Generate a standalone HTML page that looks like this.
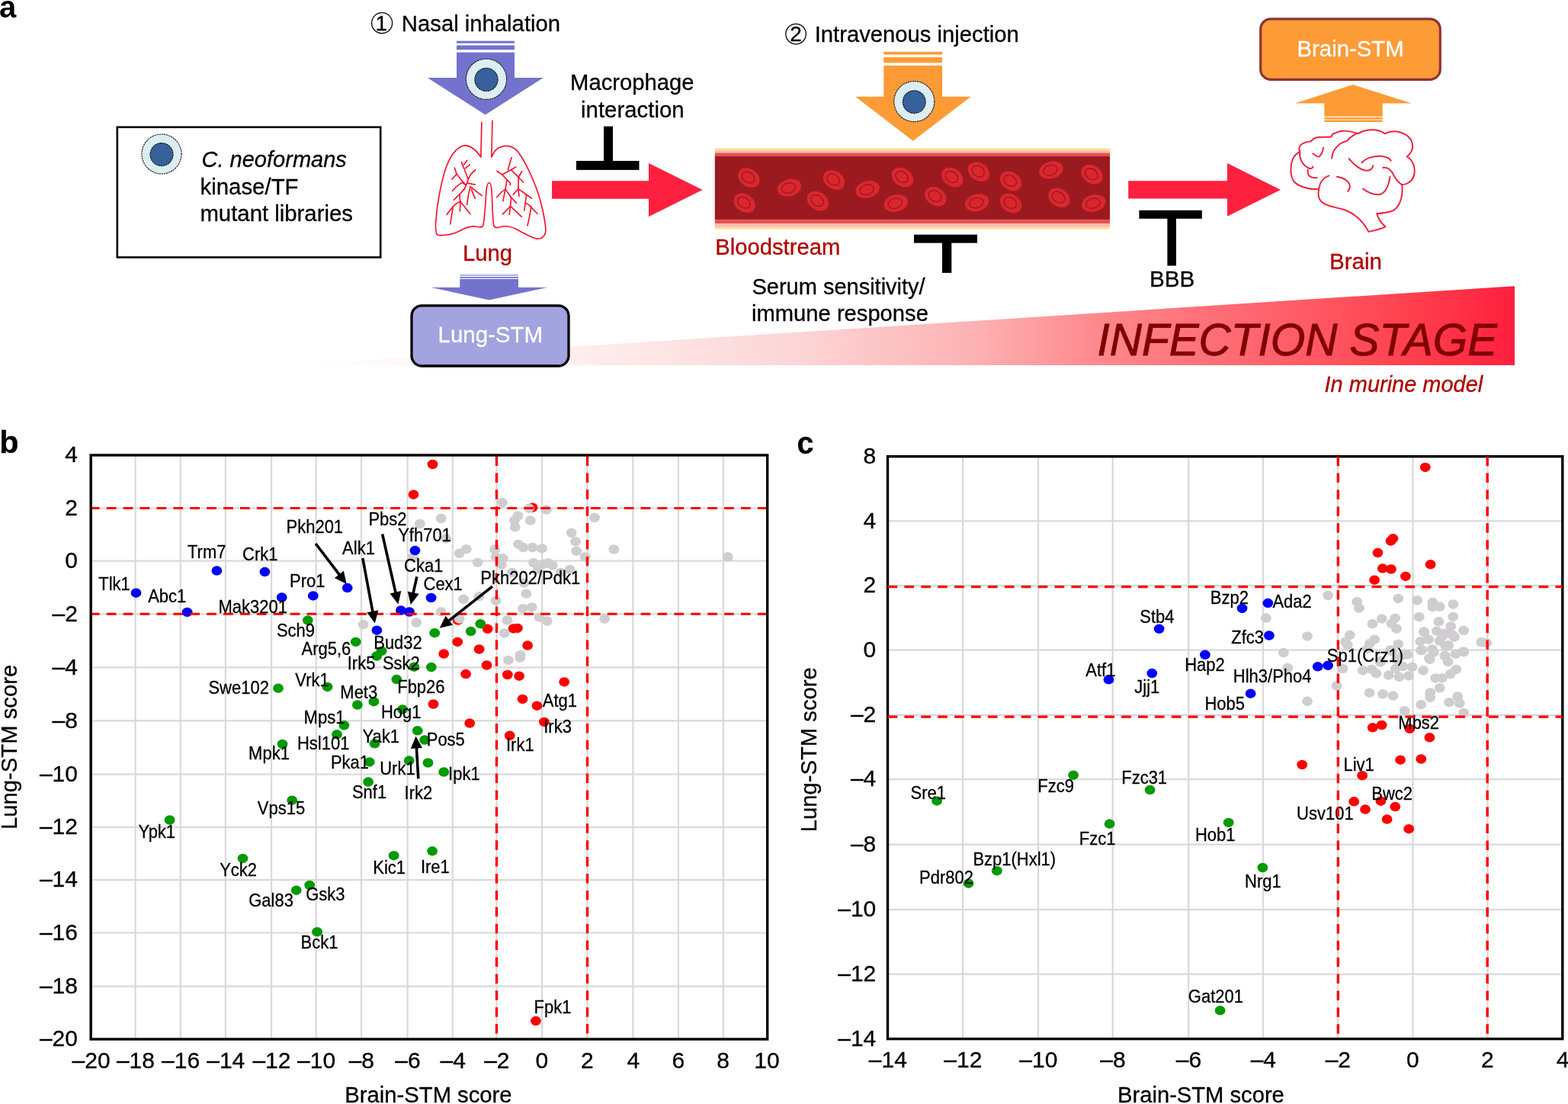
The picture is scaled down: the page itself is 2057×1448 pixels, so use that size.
<!DOCTYPE html>
<html><head><meta charset="utf-8"><title>Figure</title>
<style>
html,body{margin:0;padding:0;background:#fff;overflow:hidden;}
svg{display:block;}
text{font-family:"Liberation Sans", Arial, Helvetica, sans-serif;}
</style></head><body>
<svg width="2057" height="1448" viewBox="0 0 2057 1448">
<rect width="2057" height="1448" fill="#fff"/>
<text x="-1" y="23.2" font-size="40" font-weight="bold">a</text>
<rect x="153.8" y="166.8" width="345.4" height="170.7" fill="none" stroke="#000" stroke-width="2.6"/>
<circle cx="212" cy="202" r="26" fill="#DCEEF3" stroke="#1a1a1a" stroke-width="1.1" stroke-dasharray="2.4 0.8"/><circle cx="212" cy="202.6" r="15" fill="#37619A" stroke="#111" stroke-width="1.1" stroke-dasharray="2.4 0.8"/>
<text transform="translate(264.43,219.30) scale(0.9685,1)" font-size="30" font-style="italic" stroke="#000" stroke-width="0.3">C. neoformans</text>
<text transform="translate(262.44,255.00) scale(0.9808,1)" font-size="30" stroke="#000" stroke-width="0.3">kinase/TF</text>
<text transform="translate(262.44,289.50) scale(0.9783,1)" font-size="30" stroke="#000" stroke-width="0.3">mutant libraries</text>
<circle cx="501.1" cy="30.2" r="13.5" fill="none" stroke="#000" stroke-width="1.3"/>
<text x="500.3" y="40.0" font-size="28" fill="#000" text-anchor="middle" stroke="#000" stroke-width="0.3">1</text>
<text transform="translate(526.85,41.00) scale(0.9758,1)" font-size="30" stroke="#000" stroke-width="0.3">Nasal inhalation</text>
<rect x="599" y="53.7" width="76" height="3" fill="#7373CE"/>
<rect x="599" y="59.5" width="76" height="5.8" fill="#7373CE"/>
<path d="M599,68.8 H675 V102 H712.7 L636.7,150.5 L560.8,102 H599 Z" fill="#7373CE"/>
<circle cx="638" cy="103.8" r="26.6" fill="#DCEEF3" stroke="#1a1a1a" stroke-width="1.1" stroke-dasharray="2.4 0.8"/><circle cx="638" cy="104.39999999999999" r="15.1" fill="#37619A" stroke="#111" stroke-width="1.1" stroke-dasharray="2.4 0.8"/>
<g transform="translate(540,140) scale(0.15193)" fill="none" stroke="#F5142F" stroke-width="11" stroke-linejoin="round" stroke-linecap="round"><path d="M605,135 L598,435 C575,400 520,330 455,335 C380,345 320,450 285,560 C240,720 215,900 208,1000 C205,1060 210,1100 225,1108 C290,1115 345,1105 400,1080 C460,1045 520,1025 560,1035 C590,1040 605,1045 615,1030 C630,990 640,800 645,720 C650,680 655,655 670,655 C685,658 690,690 693,750 C697,850 700,980 710,1030 C720,1050 735,1048 760,1040 C800,1025 860,1030 910,1060 C960,1090 1010,1120 1080,1140 C1130,1145 1158,1110 1158,1060 C1150,950 1110,780 1060,660 C1010,540 960,430 900,370 C860,335 810,330 760,350 C720,370 700,410 690,435 L697,120"/><path d="M429.4,476.7 L452.1,531.3 L488.5,626.8 L479,658 L470.3,676.8 L456.7,708.6"/><path d="M452.1,499.5 L479.4,463.1"/><path d="M465.8,531.3 L502.2,499.5"/><path d="M488.5,626.8 Q510,575 552.2,545"/><path d="M370.3,526.8 L388.5,581.3 L443,649.5 L470.3,676.8"/><path d="M388.5,581.3 L347.6,626.8"/><path d="M352.1,726.8 Q385,685 433.9,654.1 L470.3,676.8"/><path d="M482,658.6 L547.6,672.3"/><path d="M506.7,690.5 L606.7,767.7"/><path d="M515.8,713.2 L547.6,790.5"/><path d="M506.7,690.5 Q486,760 479.4,845"/><path d="M456.7,708.6 L415.8,754.1 L365.7,804.1"/><path d="M415.8,754.1 Q414,790 420.3,817.8"/><path d="M420.3,817.8 Q380,835 356.6,863.2 L302.1,931.4"/><path d="M356.6,868 L333.9,1013.3"/><path d="M420.3,817.8 L418,899.6"/><path d="M420.3,817.8 L506.7,926.9"/><path d="M863.9,438.1 Q845,490 832.1,545"/><path d="M736.6,556.3 L782,585.9 L823,631.3 Q850,655 854.8,667.7 L850,675"/><path d="M782,585.9 L859.3,545 L900.3,520"/><path d="M859.3,545 L923,608.6 L963.9,651.8"/><path d="M923,608.6 L952.5,556.3"/><path d="M923,608.6 L920.7,708.6 L927.5,772.3"/><path d="M823,631.3 L809.3,713.2 L788.9,813.2"/><path d="M809.3,713.2 Q770,735 736.6,781.4"/><path d="M809.3,713.2 L859.3,781.4 L904.8,831.4"/><path d="M859.3,781.4 L852.5,858.7 L843.4,931.4"/><path d="M852.5,858.7 L786.6,926.9"/><path d="M852.5,858.7 L950.3,949.6"/><path d="M920.7,708.6 L877.5,758.6"/><path d="M920.7,708.6 L991.2,758.6 L1036.7,790.5"/><path d="M991.2,758.6 L973,895.1"/><path d="M982.1,831.4 Q1010,840 1027.6,863.2 L1086.7,924.6"/><path d="M1032.1,863.2 Q1020,950 1000.3,1026.9"/></g>
<text transform="translate(607.02,342.20) scale(0.9917,1)" font-size="29.5" fill="#B00000" stroke="#B00000" stroke-width="0.3">Lung</text>
<rect x="603.3" y="360.1" width="76.7" height="1.8" fill="#A6A6E6"/>
<rect x="603.3" y="363.1" width="76.7" height="1.8" fill="#7373CE"/>
<path d="M603.3,365.9 H680 V377 H718 L641.6,393.5 L565.6,377 H603.3 Z" fill="#7373CE"/>
<text transform="translate(748.05,117.80) scale(0.9751,1)" font-size="30" stroke="#000" stroke-width="0.3">Macrophage</text>
<text transform="translate(762.04,153.70) scale(0.9797,1)" font-size="30" stroke="#000" stroke-width="0.3">interaction</text>
<rect x="792" y="165.7" width="12" height="46" fill="#000"/>
<rect x="756" y="211" width="82.5" height="11.9" fill="#000"/>
<path d="M724,237.3 H851 V214 L921.6,249 L851,284.2 V260.7 H724 Z" fill="#FE213F"/>
<circle cx="1044.1" cy="44.6" r="13.3" fill="none" stroke="#000" stroke-width="1.3"/>
<text x="1044.1" y="53.9" font-size="28" fill="#000" text-anchor="middle" stroke="#000" stroke-width="0.3">2</text>
<text transform="translate(1068.65,55.10) scale(0.9750,1)" font-size="30" stroke="#000" stroke-width="0.3">Intravenous injection</text>
<rect x="1159.3" y="67.9" width="76.8" height="3.7" fill="#FD9B36"/>
<rect x="1159.3" y="75.1" width="76.8" height="7.3" fill="#FD9B36"/>
<path d="M1159.3,86.1 H1236.1 V126.7 H1273.8 L1197.8,184.7 L1122.1,126.7 H1159.3 Z" fill="#FD9B36"/>
<circle cx="1199.3" cy="133.1" r="26.5" fill="#DCEEF3" stroke="#1a1a1a" stroke-width="1.1" stroke-dasharray="2.4 0.8"/><circle cx="1199.3" cy="133.7" r="14.9" fill="#37619A" stroke="#111" stroke-width="1.1" stroke-dasharray="2.4 0.8"/>
<rect x="937.9" y="194.1" width="518.1" height="106.5" fill="#FFE29A"/><rect x="937.9" y="197.3" width="518.1" height="100.4" fill="#F8BCB0"/><rect x="937.9" y="200.7" width="518.1" height="92.3" fill="#E55151"/><rect x="937.9" y="205.1" width="518.1" height="82.6" fill="#9B1A20"/><g transform="translate(982.4,233.2) rotate(35)"><ellipse rx="15.3" ry="11.6" fill="#DA272D"/><ellipse cx="-1" rx="8.87" ry="6.73" fill="#DA272D" stroke="#9E1B20" stroke-width="1.5"/></g><g transform="translate(976.6,266.2) rotate(35)"><ellipse rx="15.3" ry="11.6" fill="#DA272D"/><ellipse cx="-1" rx="8.87" ry="6.73" fill="#DA272D" stroke="#9E1B20" stroke-width="1.5"/></g><g transform="translate(1035.4,246.2) rotate(-15)"><ellipse rx="16" ry="11.2" fill="#DA272D"/><ellipse cx="-1" rx="9.28" ry="6.50" fill="#DA272D" stroke="#9E1B20" stroke-width="1.5"/></g><g transform="translate(1094,236.1) rotate(35)"><ellipse rx="15.3" ry="11.6" fill="#DA272D"/><ellipse cx="-1" rx="8.87" ry="6.73" fill="#DA272D" stroke="#9E1B20" stroke-width="1.5"/></g><g transform="translate(1072.8,263.6) rotate(35)"><ellipse rx="15.3" ry="11.6" fill="#DA272D"/><ellipse cx="-1" rx="8.87" ry="6.73" fill="#DA272D" stroke="#9E1B20" stroke-width="1.5"/></g><g transform="translate(1138.1,248.5) rotate(-15)"><ellipse rx="16" ry="11.2" fill="#DA272D"/><ellipse cx="-1" rx="9.28" ry="6.50" fill="#DA272D" stroke="#9E1B20" stroke-width="1.5"/></g><g transform="translate(1183.9,232.6) rotate(35)"><ellipse rx="15.3" ry="11.6" fill="#DA272D"/><ellipse cx="-1" rx="8.87" ry="6.73" fill="#DA272D" stroke="#9E1B20" stroke-width="1.5"/></g><g transform="translate(1175.2,266.5) rotate(-15)"><ellipse rx="16" ry="11.2" fill="#DA272D"/><ellipse cx="-1" rx="9.28" ry="6.50" fill="#DA272D" stroke="#9E1B20" stroke-width="1.5"/></g><g transform="translate(1249.2,232.6) rotate(35)"><ellipse rx="15.3" ry="11.6" fill="#DA272D"/><ellipse cx="-1" rx="8.87" ry="6.73" fill="#DA272D" stroke="#9E1B20" stroke-width="1.5"/></g><g transform="translate(1227.4,257.8) rotate(35)"><ellipse rx="15.3" ry="11.6" fill="#DA272D"/><ellipse cx="-1" rx="8.87" ry="6.73" fill="#DA272D" stroke="#9E1B20" stroke-width="1.5"/></g><g transform="translate(1284,225.3) rotate(35)"><ellipse rx="15.3" ry="11.6" fill="#DA272D"/><ellipse cx="-1" rx="8.87" ry="6.73" fill="#DA272D" stroke="#9E1B20" stroke-width="1.5"/></g><g transform="translate(1281.7,265.9) rotate(-15)"><ellipse rx="16" ry="11.2" fill="#DA272D"/><ellipse cx="-1" rx="9.28" ry="6.50" fill="#DA272D" stroke="#9E1B20" stroke-width="1.5"/></g><g transform="translate(1326,237.5) rotate(35)"><ellipse rx="15.3" ry="11.6" fill="#DA272D"/><ellipse cx="-1" rx="8.87" ry="6.73" fill="#DA272D" stroke="#9E1B20" stroke-width="1.5"/></g><g transform="translate(1326,266.5) rotate(35)"><ellipse rx="15.3" ry="11.6" fill="#DA272D"/><ellipse cx="-1" rx="8.87" ry="6.73" fill="#DA272D" stroke="#9E1B20" stroke-width="1.5"/></g><g transform="translate(1378.8,223) rotate(-15)"><ellipse rx="16" ry="11.2" fill="#DA272D"/><ellipse cx="-1" rx="9.28" ry="6.50" fill="#DA272D" stroke="#9E1B20" stroke-width="1.5"/></g><g transform="translate(1389.3,259.3) rotate(35)"><ellipse rx="15.3" ry="11.6" fill="#DA272D"/><ellipse cx="-1" rx="8.87" ry="6.73" fill="#DA272D" stroke="#9E1B20" stroke-width="1.5"/></g><g transform="translate(1432.5,228.8) rotate(35)"><ellipse rx="15.3" ry="11.6" fill="#DA272D"/><ellipse cx="-1" rx="8.87" ry="6.73" fill="#DA272D" stroke="#9E1B20" stroke-width="1.5"/></g><g transform="translate(1434.8,266.5) rotate(-15)"><ellipse rx="16" ry="11.2" fill="#DA272D"/><ellipse cx="-1" rx="9.28" ry="6.50" fill="#DA272D" stroke="#9E1B20" stroke-width="1.5"/></g>
<text transform="translate(938.25,334.40) scale(0.9739,1)" font-size="30" fill="#B00000" stroke="#B00000" stroke-width="0.3">Bloodstream</text>
<rect x="1199" y="307.7" width="83" height="11" fill="#000"/>
<rect x="1236" y="318" width="12.3" height="39.9" fill="#000"/>
<text transform="translate(986.43,386.00) scale(0.9671,1)" font-size="30" stroke="#000" stroke-width="0.3">Serum sensitivity/</text>
<text transform="translate(986.05,420.60) scale(0.9726,1)" font-size="30" stroke="#000" stroke-width="0.3">immune response</text>
<path d="M1480.2,237.2 H1610 V214.1 L1680,248.9 L1610,283.7 V260.6 H1480.2 Z" fill="#FE213F"/>
<rect x="1494.4" y="275.8" width="82.4" height="11" fill="#000"/>
<rect x="1531.4" y="286" width="11.5" height="62.5" fill="#000"/>
<text transform="translate(1507.92,376.30) scale(0.9891,1)" font-size="30" stroke="#000" stroke-width="0.3">BBB</text>
<g transform="translate(1460,10) scale(0.26240)" fill="none" stroke="#F0203C" stroke-width="7.5" stroke-linejoin="round" stroke-linecap="round"><path d="M935,720 C925,700 935,685 952,678 C965,670 980,670 990,668 C1000,655 1015,650 1025,648 C1050,645 1075,648 1092,646 C1093,635 1100,630 1110,627 C1130,618 1145,615 1160,616 C1185,617 1205,622 1225,630 C1260,608 1320,600 1360,630 C1400,608 1460,618 1490,660 C1505,690 1500,720 1470,745 C1500,762 1515,800 1505,840 C1495,870 1470,885 1445,885 C1450,930 1442,985 1405,1012 C1380,1025 1345,1028 1320,1030 C1325,1055 1345,1080 1362,1095 C1335,1108 1305,1115 1278,1120 C1255,1075 1215,1030 1150,1008 C1100,995 1045,990 1030,950 C1025,930 1028,915 1030,905 C995,912 935,900 905,870 C885,840 885,790 900,755 C910,735 925,725 935,720"/><path d="M935,720 C930,750 945,785 975,800 C990,810 1000,800 1000,795"/><path d="M975,810 C970,835 985,855 1020,850"/><path d="M1000,730 C1015,740 1025,748 1030,745 C1045,735 1050,715 1052,700"/><path d="M1094,753 C1096,725 1110,700 1134,682 C1145,675 1160,668 1169,667 C1175,660 1190,645 1205,637 C1212,632 1218,629 1222,628"/><path d="M1030,905 C1035,870 1050,850 1080,840"/><path d="M1120,845 C1160,850 1185,875 1185,895 C1185,905 1180,912 1175,918"/><path d="M1180,755 C1205,785 1235,812 1270,815 C1290,815 1300,800 1300,790"/><path d="M1245,775 C1260,755 1300,740 1340,742 C1365,745 1385,755 1390,765"/><path d="M1350,800 C1375,795 1395,815 1405,840 C1420,865 1435,880 1445,885"/><path d="M1250,905 C1275,925 1300,935 1330,935 C1360,930 1378,895 1385,845"/><path d="M1320,1030 C1330,1030 1345,1028 1350,1025"/></g>
<text transform="translate(1744.00,352.80) scale(1.0021,1)" font-size="29.5" fill="#B00000" stroke="#B00000" stroke-width="0.3">Brain</text>
<rect x="1737.4" y="153.9" width="76.3" height="2.6" fill="#FD9B36"/>
<rect x="1737.4" y="157.5" width="76.3" height="2.5" fill="#FD9B36"/>
<path d="M1737.4,152.7 V135.4 H1698.8 L1774.9,111 L1851.8,135.4 H1813.7 V152.7 Z" fill="#FD9B36"/>
<rect x="1653.7" y="24.8" width="235.6" height="79.6" rx="13.5" ry="13.5" fill="#FD9B36" stroke="#8E3434" stroke-width="3.2"/>
<text transform="translate(1701.55,74.30) scale(0.9773,1)" font-size="30" fill="#fff" stroke="#fff" stroke-width="0.3">Brain-STM</text>
<defs><linearGradient id="gInf" x1="373" y1="0" x2="1987" y2="0" gradientUnits="userSpaceOnUse"><stop offset="0.0000" stop-color="#FFFFFF"/><stop offset="0.1159" stop-color="#FFF7F7"/><stop offset="0.2336" stop-color="#FEEEEE"/><stop offset="0.4133" stop-color="#FCD6D7"/><stop offset="0.5558" stop-color="#FDB3B5"/><stop offset="0.6611" stop-color="#FE898D"/><stop offset="0.7478" stop-color="#FF7078"/><stop offset="0.8315" stop-color="#FF5A65"/><stop offset="0.9151" stop-color="#FF404E"/><stop offset="1.0000" stop-color="#FE1F3D"/></linearGradient></defs>
<path d="M373,479.1 L1987,375.3 V479.1 Z" fill="url(#gInf)"/>
<rect x="540" y="400.8" width="206" height="79.2" rx="13.5" ry="13.5" fill="#A3A3DF" stroke="#000" stroke-width="3.3"/>
<text transform="translate(574.54,449.40) scale(0.9812,1)" font-size="30" fill="#fff" stroke="#fff" stroke-width="0.3">Lung-STM</text>
<text transform="translate(1439.55,466.30) scale(0.9738,1)" font-size="60" fill="#800000" font-style="italic" stroke="#800000" stroke-width="1.0">INFECTION STAGE</text>
<text transform="translate(1737.52,514.10) scale(0.9827,1)" font-size="29.5" fill="#B00000" font-style="italic" stroke="#B00000" stroke-width="0.3">In murine model</text>
<text transform="translate(-0.87,594.20) scale(1.0333,1)" font-size="40" font-weight="bold" stroke="#000" stroke-width="0.3">b</text>
<path d="M177.6,597 V1363 M236.7,597 V1363 M295.9,597 V1363 M356.1,597 V1363 M414.7,597 V1363 M474.0,597 V1363 M534.6,597 V1363 M593.8,597 V1363 M651.5,597 V1363 M710.9,597 V1363 M770.5,597 V1363 M830.4,597 V1363 M889.9,597 V1363 M948.8,597 V1363 M119.2,666.5 H1006.7 M119.2,735.7 H1006.7 M119.2,805.3 H1006.7 M119.2,875.3 H1006.7 M119.2,945.3 H1006.7 M119.2,1015.6 H1006.7 M119.2,1084.9 H1006.7 M119.2,1154.2 H1006.7 M119.2,1223.5 H1006.7 M119.2,1293.7 H1006.7" stroke="#D9D9D9" stroke-width="2.2" fill="none"/>
<ellipse cx="567.5" cy="609" rx="6.9" ry="6.25" fill="#FF0000"/>
<ellipse cx="542.5" cy="648.7" rx="6.9" ry="6.25" fill="#FF0000"/>
<ellipse cx="698.6" cy="665.7" rx="6.9" ry="6.25" fill="#FF0000"/>
<ellipse cx="600.7" cy="813.5" rx="6.9" ry="6.25" fill="#FF0000"/>
<ellipse cx="639.6" cy="824.8" rx="6.9" ry="6.25" fill="#FF0000"/>
<ellipse cx="673.5" cy="824.4" rx="6.9" ry="6.25" fill="#FF0000"/>
<ellipse cx="678.9" cy="823.9" rx="6.9" ry="6.25" fill="#FF0000"/>
<ellipse cx="600.2" cy="841.9" rx="6.9" ry="6.25" fill="#FF0000"/>
<ellipse cx="628.6" cy="851.5" rx="6.9" ry="6.25" fill="#FF0000"/>
<ellipse cx="582.2" cy="857.6" rx="6.9" ry="6.25" fill="#FF0000"/>
<ellipse cx="692.1" cy="846.6" rx="6.9" ry="6.25" fill="#FF0000"/>
<ellipse cx="638.5" cy="872.5" rx="6.9" ry="6.25" fill="#FF0000"/>
<ellipse cx="611.1" cy="884.1" rx="6.9" ry="6.25" fill="#FF0000"/>
<ellipse cx="665.8" cy="885" rx="6.9" ry="6.25" fill="#FF0000"/>
<ellipse cx="681.1" cy="886.7" rx="6.9" ry="6.25" fill="#FF0000"/>
<ellipse cx="740.2" cy="894.4" rx="6.9" ry="6.25" fill="#FF0000"/>
<ellipse cx="568.5" cy="923.5" rx="6.9" ry="6.25" fill="#FF0000"/>
<ellipse cx="685.5" cy="916.9" rx="6.9" ry="6.25" fill="#FF0000"/>
<ellipse cx="704.5" cy="925.7" rx="6.9" ry="6.25" fill="#FF0000"/>
<ellipse cx="616.2" cy="948.6" rx="6.9" ry="6.25" fill="#FF0000"/>
<ellipse cx="713.9" cy="946.9" rx="6.9" ry="6.25" fill="#FF0000"/>
<ellipse cx="668.7" cy="964.8" rx="6.9" ry="6.25" fill="#FF0000"/>
<ellipse cx="702.9" cy="1339.1" rx="6.9" ry="6.25" fill="#FF0000"/>
<ellipse cx="658.9" cy="659.2" rx="6.9" ry="6.25" fill="#CFCDCF"/>
<ellipse cx="694" cy="666.7" rx="6.9" ry="6.25" fill="#CFCDCF"/>
<ellipse cx="716.9" cy="668.6" rx="6.9" ry="6.25" fill="#CFCDCF"/>
<ellipse cx="578.6" cy="680" rx="6.9" ry="6.25" fill="#CFCDCF"/>
<ellipse cx="550.8" cy="687" rx="6.9" ry="6.25" fill="#CFCDCF"/>
<ellipse cx="679.5" cy="676.5" rx="6.9" ry="6.25" fill="#CFCDCF"/>
<ellipse cx="674.8" cy="682.6" rx="6.9" ry="6.25" fill="#CFCDCF"/>
<ellipse cx="695.8" cy="682.6" rx="6.9" ry="6.25" fill="#CFCDCF"/>
<ellipse cx="675.7" cy="691.3" rx="6.9" ry="6.25" fill="#CFCDCF"/>
<ellipse cx="780" cy="679" rx="6.9" ry="6.25" fill="#CFCDCF"/>
<ellipse cx="585" cy="706.4" rx="6.9" ry="6.25" fill="#CFCDCF"/>
<ellipse cx="749.6" cy="699" rx="6.9" ry="6.25" fill="#CFCDCF"/>
<ellipse cx="755" cy="710.2" rx="6.9" ry="6.25" fill="#CFCDCF"/>
<ellipse cx="680" cy="713.9" rx="6.9" ry="6.25" fill="#CFCDCF"/>
<ellipse cx="686.5" cy="718" rx="6.9" ry="6.25" fill="#CFCDCF"/>
<ellipse cx="698.6" cy="718" rx="6.9" ry="6.25" fill="#CFCDCF"/>
<ellipse cx="711" cy="719.4" rx="6.9" ry="6.25" fill="#CFCDCF"/>
<ellipse cx="756.2" cy="722.8" rx="6.9" ry="6.25" fill="#CFCDCF"/>
<ellipse cx="805.3" cy="720.5" rx="6.9" ry="6.25" fill="#CFCDCF"/>
<ellipse cx="611.8" cy="720.2" rx="6.9" ry="6.25" fill="#CFCDCF"/>
<ellipse cx="602.6" cy="725.8" rx="6.9" ry="6.25" fill="#CFCDCF"/>
<ellipse cx="649.1" cy="720.5" rx="6.9" ry="6.25" fill="#CFCDCF"/>
<ellipse cx="659.8" cy="732.3" rx="6.9" ry="6.25" fill="#CFCDCF"/>
<ellipse cx="650.5" cy="730.4" rx="6.9" ry="6.25" fill="#CFCDCF"/>
<ellipse cx="626.6" cy="737.8" rx="6.9" ry="6.25" fill="#CFCDCF"/>
<ellipse cx="657.9" cy="740.6" rx="6.9" ry="6.25" fill="#CFCDCF"/>
<ellipse cx="767.5" cy="730.4" rx="6.9" ry="6.25" fill="#CFCDCF"/>
<ellipse cx="700" cy="738.3" rx="6.9" ry="6.25" fill="#CFCDCF"/>
<ellipse cx="713.2" cy="739.7" rx="6.9" ry="6.25" fill="#CFCDCF"/>
<ellipse cx="719" cy="738.3" rx="6.9" ry="6.25" fill="#CFCDCF"/>
<ellipse cx="724.8" cy="741.6" rx="6.9" ry="6.25" fill="#CFCDCF"/>
<ellipse cx="747.6" cy="747" rx="6.9" ry="6.25" fill="#CFCDCF"/>
<ellipse cx="735.6" cy="750.9" rx="6.9" ry="6.25" fill="#CFCDCF"/>
<ellipse cx="672" cy="751" rx="6.9" ry="6.25" fill="#CFCDCF"/>
<ellipse cx="706" cy="746.8" rx="6.9" ry="6.25" fill="#CFCDCF"/>
<ellipse cx="687.5" cy="764.5" rx="6.9" ry="6.25" fill="#CFCDCF"/>
<ellipse cx="690.4" cy="778.7" rx="6.9" ry="6.25" fill="#CFCDCF"/>
<ellipse cx="608.1" cy="785.8" rx="6.9" ry="6.25" fill="#CFCDCF"/>
<ellipse cx="628.4" cy="782.3" rx="6.9" ry="6.25" fill="#CFCDCF"/>
<ellipse cx="650.5" cy="787.9" rx="6.9" ry="6.25" fill="#CFCDCF"/>
<ellipse cx="686" cy="798.2" rx="6.9" ry="6.25" fill="#CFCDCF"/>
<ellipse cx="697.7" cy="796.4" rx="6.9" ry="6.25" fill="#CFCDCF"/>
<ellipse cx="578.6" cy="802.4" rx="6.9" ry="6.25" fill="#CFCDCF"/>
<ellipse cx="602.6" cy="811.7" rx="6.9" ry="6.25" fill="#CFCDCF"/>
<ellipse cx="665.4" cy="813.6" rx="6.9" ry="6.25" fill="#CFCDCF"/>
<ellipse cx="707.6" cy="809.5" rx="6.9" ry="6.25" fill="#CFCDCF"/>
<ellipse cx="717.8" cy="814.6" rx="6.9" ry="6.25" fill="#CFCDCF"/>
<ellipse cx="793.2" cy="811.7" rx="6.9" ry="6.25" fill="#CFCDCF"/>
<ellipse cx="661.7" cy="830.5" rx="6.9" ry="6.25" fill="#CFCDCF"/>
<ellipse cx="546.3" cy="816.6" rx="6.9" ry="6.25" fill="#CFCDCF"/>
<ellipse cx="476.7" cy="819.1" rx="6.9" ry="6.25" fill="#CFCDCF"/>
<ellipse cx="541.6" cy="730.4" rx="6.9" ry="6.25" fill="#CFCDCF"/>
<ellipse cx="954.7" cy="730.3" rx="6.9" ry="6.25" fill="#CFCDCF"/>
<ellipse cx="682.6" cy="859.2" rx="6.9" ry="6.25" fill="#CFCDCF"/>
<ellipse cx="666.9" cy="865.9" rx="6.9" ry="6.25" fill="#CFCDCF"/>
<ellipse cx="682.2" cy="862.7" rx="6.9" ry="6.25" fill="#CFCDCF"/>
<ellipse cx="403.8" cy="813.6" rx="6.9" ry="6.25" fill="#009A00"/>
<ellipse cx="466.7" cy="841.9" rx="6.9" ry="6.25" fill="#009A00"/>
<ellipse cx="500.6" cy="853.9" rx="6.9" ry="6.25" fill="#009A00"/>
<ellipse cx="494.1" cy="860.5" rx="6.9" ry="6.25" fill="#009A00"/>
<ellipse cx="543.3" cy="874.7" rx="6.9" ry="6.25" fill="#009A00"/>
<ellipse cx="565.8" cy="875.1" rx="6.9" ry="6.25" fill="#009A00"/>
<ellipse cx="570.2" cy="830.2" rx="6.9" ry="6.25" fill="#009A00"/>
<ellipse cx="617.7" cy="828.1" rx="6.9" ry="6.25" fill="#009A00"/>
<ellipse cx="630.3" cy="818.2" rx="6.9" ry="6.25" fill="#009A00"/>
<ellipse cx="520.3" cy="891.1" rx="6.9" ry="6.25" fill="#009A00"/>
<ellipse cx="365" cy="902.7" rx="6.9" ry="6.25" fill="#009A00"/>
<ellipse cx="429.5" cy="900.9" rx="6.9" ry="6.25" fill="#009A00"/>
<ellipse cx="468.9" cy="924.6" rx="6.9" ry="6.25" fill="#009A00"/>
<ellipse cx="490.4" cy="920.2" rx="6.9" ry="6.25" fill="#009A00"/>
<ellipse cx="528" cy="930.5" rx="6.9" ry="6.25" fill="#009A00"/>
<ellipse cx="451.4" cy="951.3" rx="6.9" ry="6.25" fill="#009A00"/>
<ellipse cx="442" cy="963.3" rx="6.9" ry="6.25" fill="#009A00"/>
<ellipse cx="370.5" cy="976" rx="6.9" ry="6.25" fill="#009A00"/>
<ellipse cx="491.5" cy="975.3" rx="6.9" ry="6.25" fill="#009A00"/>
<ellipse cx="547.7" cy="958.3" rx="6.9" ry="6.25" fill="#009A00"/>
<ellipse cx="557.1" cy="970.5" rx="6.9" ry="6.25" fill="#009A00"/>
<ellipse cx="484.7" cy="999.4" rx="6.9" ry="6.25" fill="#009A00"/>
<ellipse cx="536.7" cy="997.6" rx="6.9" ry="6.25" fill="#009A00"/>
<ellipse cx="561.5" cy="1000.5" rx="6.9" ry="6.25" fill="#009A00"/>
<ellipse cx="582.2" cy="1012.5" rx="6.9" ry="6.25" fill="#009A00"/>
<ellipse cx="483.1" cy="1025.6" rx="6.9" ry="6.25" fill="#009A00"/>
<ellipse cx="383.2" cy="1049.7" rx="6.9" ry="6.25" fill="#009A00"/>
<ellipse cx="222.6" cy="1075.5" rx="6.9" ry="6.25" fill="#009A00"/>
<ellipse cx="318.5" cy="1125.9" rx="6.9" ry="6.25" fill="#009A00"/>
<ellipse cx="388.7" cy="1167.7" rx="6.9" ry="6.25" fill="#009A00"/>
<ellipse cx="406.2" cy="1161" rx="6.9" ry="6.25" fill="#009A00"/>
<ellipse cx="416.1" cy="1222.2" rx="6.9" ry="6.25" fill="#009A00"/>
<ellipse cx="516.6" cy="1122.2" rx="6.9" ry="6.25" fill="#009A00"/>
<ellipse cx="567.1" cy="1116.3" rx="6.9" ry="6.25" fill="#009A00"/>
<ellipse cx="178.5" cy="777.7" rx="6.9" ry="6.25" fill="#0000FF"/>
<ellipse cx="245.6" cy="802.9" rx="6.9" ry="6.25" fill="#0000FF"/>
<ellipse cx="284.4" cy="748.6" rx="6.9" ry="6.25" fill="#0000FF"/>
<ellipse cx="347.4" cy="750.1" rx="6.9" ry="6.25" fill="#0000FF"/>
<ellipse cx="369.7" cy="783.6" rx="6.9" ry="6.25" fill="#0000FF"/>
<ellipse cx="410.8" cy="781.4" rx="6.9" ry="6.25" fill="#0000FF"/>
<ellipse cx="455.7" cy="771.1" rx="6.9" ry="6.25" fill="#0000FF"/>
<ellipse cx="494.4" cy="826.7" rx="6.9" ry="6.25" fill="#0000FF"/>
<ellipse cx="525.9" cy="800.6" rx="6.9" ry="6.25" fill="#0000FF"/>
<ellipse cx="537" cy="802.5" rx="6.9" ry="6.25" fill="#0000FF"/>
<ellipse cx="565.6" cy="784" rx="6.9" ry="6.25" fill="#0000FF"/>
<ellipse cx="544.4" cy="722.1" rx="6.9" ry="6.25" fill="#0000FF"/>
<path d="M119.2,666.5 H1006.7 M119.2,805.3 H1006.7" stroke="#FF0000" stroke-width="3.1" stroke-dasharray="12.7 9.2" stroke-dashoffset="1.3" fill="none"/>
<path d="M651.5,597 V1363 M770.5,597 V1363" stroke="#FF0000" stroke-width="3.4" stroke-dasharray="12.5 9.4" stroke-dashoffset="20.4" fill="none"/>
<text transform="translate(129.30,774.40) scale(0.8940,1)" font-size="24.6" stroke="#000" stroke-width="0.3">Tlk1</text>
<text transform="translate(194.20,790.10) scale(0.8940,1)" font-size="24.6" stroke="#000" stroke-width="0.3">Abc1</text>
<text transform="translate(246.00,732.40) scale(0.8940,1)" font-size="24.6" stroke="#000" stroke-width="0.3">Trm7</text>
<text transform="translate(318.11,734.60) scale(0.8940,1)" font-size="24.6" stroke="#000" stroke-width="0.3">Crk1</text>
<text transform="translate(286.51,803.50) scale(0.8940,1)" font-size="24.6" stroke="#000" stroke-width="0.3">Mak3201</text>
<text transform="translate(380.11,770.40) scale(0.8940,1)" font-size="24.6" stroke="#000" stroke-width="0.3">Pro1</text>
<text transform="translate(375.51,698.90) scale(0.8940,1)" font-size="24.6" stroke="#000" stroke-width="0.3">Pkh201</text>
<text transform="translate(449.10,726.70) scale(0.8940,1)" font-size="24.6" stroke="#000" stroke-width="0.3">Alk1</text>
<text transform="translate(483.41,688.60) scale(0.8940,1)" font-size="24.6" stroke="#000" stroke-width="0.3">Pbs2</text>
<text transform="translate(522.20,709.80) scale(0.8940,1)" font-size="24.6" stroke="#000" stroke-width="0.3">Yfh701</text>
<text transform="translate(530.01,750.40) scale(0.8940,1)" font-size="24.6" stroke="#000" stroke-width="0.3">Cka1</text>
<text transform="translate(555.51,774.40) scale(0.8940,1)" font-size="24.6" stroke="#000" stroke-width="0.3">Cex1</text>
<text transform="translate(630.31,766.10) scale(0.8940,1)" font-size="24.6" stroke="#000" stroke-width="0.3">Pkh202/Pdk1</text>
<text transform="translate(362.91,834.50) scale(0.8940,1)" font-size="24.6" stroke="#000" stroke-width="0.3">Sch9</text>
<text transform="translate(395.50,859.00) scale(0.8940,1)" font-size="24.6" stroke="#000" stroke-width="0.3">Arg5,6</text>
<text transform="translate(490.21,851.20) scale(0.8940,1)" font-size="24.6" stroke="#000" stroke-width="0.3">Bud32</text>
<text transform="translate(455.71,877.90) scale(0.8940,1)" font-size="24.6" stroke="#000" stroke-width="0.3">Irk5</text>
<text transform="translate(501.91,877.90) scale(0.8940,1)" font-size="24.6" stroke="#000" stroke-width="0.3">Ssk2</text>
<text transform="translate(387.30,899.80) scale(0.8940,1)" font-size="24.6" stroke="#000" stroke-width="0.3">Vrk1</text>
<text transform="translate(273.41,910.00) scale(0.8940,1)" font-size="24.6" stroke="#000" stroke-width="0.3">Swe102</text>
<text transform="translate(446.31,916.20) scale(0.8940,1)" font-size="24.6" stroke="#000" stroke-width="0.3">Met3</text>
<text transform="translate(521.21,909.20) scale(0.8940,1)" font-size="24.6" stroke="#000" stroke-width="0.3">Fbp26</text>
<text transform="translate(499.91,942.00) scale(0.8940,1)" font-size="24.6" stroke="#000" stroke-width="0.3">Hog1</text>
<text transform="translate(398.61,948.60) scale(0.8940,1)" font-size="24.6" stroke="#000" stroke-width="0.3">Mps1</text>
<text transform="translate(475.50,973.70) scale(0.8940,1)" font-size="24.6" stroke="#000" stroke-width="0.3">Yak1</text>
<text transform="translate(559.71,978.10) scale(0.8940,1)" font-size="24.6" stroke="#000" stroke-width="0.3">Pos5</text>
<text transform="translate(389.91,982.50) scale(0.8940,1)" font-size="24.6" stroke="#000" stroke-width="0.3">Hsl101</text>
<text transform="translate(326.11,995.80) scale(0.8940,1)" font-size="24.6" stroke="#000" stroke-width="0.3">Mpk1</text>
<text transform="translate(433.91,1007.60) scale(0.8940,1)" font-size="24.6" stroke="#000" stroke-width="0.3">Pka1</text>
<text transform="translate(498.21,1016.40) scale(0.8940,1)" font-size="24.6" stroke="#000" stroke-width="0.3">Urk1</text>
<text transform="translate(588.11,1023.00) scale(0.8940,1)" font-size="24.6" stroke="#000" stroke-width="0.3">Ipk1</text>
<text transform="translate(461.91,1046.60) scale(0.8940,1)" font-size="24.6" stroke="#000" stroke-width="0.3">Snf1</text>
<text transform="translate(530.61,1048.10) scale(0.8940,1)" font-size="24.6" stroke="#000" stroke-width="0.3">Irk2</text>
<text transform="translate(337.80,1067.90) scale(0.8940,1)" font-size="24.6" stroke="#000" stroke-width="0.3">Vps15</text>
<text transform="translate(711.80,926.70) scale(0.8940,1)" font-size="24.6" stroke="#000" stroke-width="0.3">Atg1</text>
<text transform="translate(713.21,960.60) scale(0.8940,1)" font-size="24.6" stroke="#000" stroke-width="0.3">Irk3</text>
<text transform="translate(664.01,984.70) scale(0.8940,1)" font-size="24.6" stroke="#000" stroke-width="0.3">Irk1</text>
<text transform="translate(181.60,1099.20) scale(0.8940,1)" font-size="24.6" stroke="#000" stroke-width="0.3">Ypk1</text>
<text transform="translate(288.20,1149.00) scale(0.8940,1)" font-size="24.6" stroke="#000" stroke-width="0.3">Yck2</text>
<text transform="translate(326.21,1188.70) scale(0.8940,1)" font-size="24.6" stroke="#000" stroke-width="0.3">Gal83</text>
<text transform="translate(401.21,1181.20) scale(0.8940,1)" font-size="24.6" stroke="#000" stroke-width="0.3">Gsk3</text>
<text transform="translate(394.51,1244.20) scale(0.8940,1)" font-size="24.6" stroke="#000" stroke-width="0.3">Bck1</text>
<text transform="translate(489.31,1146.40) scale(0.8940,1)" font-size="24.6" stroke="#000" stroke-width="0.3">Kic1</text>
<text transform="translate(551.91,1145.00) scale(0.8940,1)" font-size="24.6" stroke="#000" stroke-width="0.3">Ire1</text>
<text transform="translate(700.51,1329.00) scale(0.8940,1)" font-size="24.6" stroke="#000" stroke-width="0.3">Fpk1</text>
<line x1="414.1" y1="713" x2="445.5" y2="754.2" stroke="#000" stroke-width="3.6"/><path d="M454.6,766.1 L438.9,758.0 L450.9,748.8 Z" fill="#000"/>
<line x1="475.8" y1="732.2" x2="489.0" y2="802.8" stroke="#000" stroke-width="3.6"/><path d="M491.8,817.5 L481.4,803.2 L496.3,800.4 Z" fill="#000"/>
<line x1="501.6" y1="700.5" x2="519.1" y2="777.8" stroke="#000" stroke-width="3.6"/><path d="M522.4,792.4 L511.5,778.5 L526.3,775.1 Z" fill="#000"/>
<line x1="546.9" y1="756.3" x2="542.0" y2="778.4" stroke="#000" stroke-width="3.6"/><path d="M538.8,793 L534.8,775.7 L549.7,779.0 Z" fill="#000"/>
<line x1="646" y1="769.2" x2="588.5" y2="814.4" stroke="#000" stroke-width="3.6"/><path d="M576.7,823.7 L584.6,807.8 L594.0,819.8 Z" fill="#000"/>
<line x1="548.8" y1="1021.3" x2="546.4" y2="980.5" stroke="#000" stroke-width="3.6"/><path d="M545.5,965.5 L554.0,981.0 L538.9,981.9 Z" fill="#000"/>
<rect x="119.2" y="597" width="887.5" height="766" fill="none" stroke="#000" stroke-width="3.4"/>
<text x="85.30" y="606.20" font-size="30" stroke="#000" stroke-width="0.3">4</text>
<text x="85.30" y="675.70" font-size="30" stroke="#000" stroke-width="0.3">2</text>
<text x="85.30" y="744.90" font-size="30" stroke="#000" stroke-width="0.3">0</text>
<text x="68.62" y="814.50" font-size="30" stroke="#000" stroke-width="0.3">–2</text>
<text x="68.62" y="884.50" font-size="30" stroke="#000" stroke-width="0.3">–4</text>
<text x="68.62" y="954.50" font-size="30" stroke="#000" stroke-width="0.3">–8</text>
<text x="51.93" y="1024.80" font-size="30" stroke="#000" stroke-width="0.3">–10</text>
<text x="51.93" y="1094.10" font-size="30" stroke="#000" stroke-width="0.3">–12</text>
<text x="51.93" y="1163.40" font-size="30" stroke="#000" stroke-width="0.3">–14</text>
<text x="51.93" y="1232.70" font-size="30" stroke="#000" stroke-width="0.3">–16</text>
<text x="51.93" y="1302.90" font-size="30" stroke="#000" stroke-width="0.3">–18</text>
<text x="51.93" y="1372.20" font-size="30" stroke="#000" stroke-width="0.3">–20</text>
<text x="94.52" y="1400.70" font-size="30" stroke="#000" stroke-width="0.3">–20</text>
<text x="152.92" y="1400.70" font-size="30" stroke="#000" stroke-width="0.3">–18</text>
<text x="212.02" y="1400.70" font-size="30" stroke="#000" stroke-width="0.3">–16</text>
<text x="271.22" y="1400.70" font-size="30" stroke="#000" stroke-width="0.3">–14</text>
<text x="331.42" y="1400.70" font-size="30" stroke="#000" stroke-width="0.3">–12</text>
<text x="390.02" y="1400.70" font-size="30" stroke="#000" stroke-width="0.3">–10</text>
<text x="457.66" y="1400.70" font-size="30" stroke="#000" stroke-width="0.3">–8</text>
<text x="518.26" y="1400.70" font-size="30" stroke="#000" stroke-width="0.3">–6</text>
<text x="577.46" y="1400.70" font-size="30" stroke="#000" stroke-width="0.3">–4</text>
<text x="635.16" y="1400.70" font-size="30" stroke="#000" stroke-width="0.3">–2</text>
<text x="702.40" y="1400.70" font-size="30" stroke="#000" stroke-width="0.3">0</text>
<text x="762.00" y="1400.70" font-size="30" stroke="#000" stroke-width="0.3">2</text>
<text x="822.40" y="1400.70" font-size="30" stroke="#000" stroke-width="0.3">4</text>
<text x="881.40" y="1400.70" font-size="30" stroke="#000" stroke-width="0.3">6</text>
<text x="940.30" y="1400.70" font-size="30" stroke="#000" stroke-width="0.3">8</text>
<text x="989.36" y="1400.70" font-size="30" stroke="#000" stroke-width="0.3">10</text>
<text transform="translate(452.35,1445.80) scale(0.9745,1)" font-size="30" stroke="#000" stroke-width="0.3">Brain-STM score</text>
<text transform="translate(22.40,1087.95) rotate(-90) scale(0.9751,1)" font-size="30" stroke="#000" stroke-width="0.3">Lung-STM score</text>
<text transform="translate(1045.61,594.50) scale(0.9857,1)" font-size="40" font-weight="bold" stroke="#000" stroke-width="0.3">c</text>
<path d="M1263.0,598.7 V1362.6 M1362.0,598.7 V1362.6 M1459.7,598.7 V1362.6 M1559.2,598.7 V1362.6 M1657.0,598.7 V1362.6 M1755.0,598.7 V1362.6 M1853.5,598.7 V1362.6 M1951.5,598.7 V1362.6 M1164.5,683.3 H2049.8 M1164.5,768.2 H2049.8 M1164.5,852.6 H2049.8 M1164.5,937.9 H2049.8 M1164.5,1022.1 H2049.8 M1164.5,1107.6 H2049.8 M1164.5,1193.2 H2049.8 M1164.5,1277.6 H2049.8" stroke="#D9D9D9" stroke-width="2.2" fill="none"/>
<ellipse cx="1869.8" cy="612.9" rx="6.9" ry="6.25" fill="#FF0000"/>
<ellipse cx="1827.4" cy="706.3" rx="6.9" ry="6.25" fill="#FF0000"/>
<ellipse cx="1824.5" cy="709.6" rx="6.9" ry="6.25" fill="#FF0000"/>
<ellipse cx="1807.4" cy="725.1" rx="6.9" ry="6.25" fill="#FF0000"/>
<ellipse cx="1813.8" cy="745.6" rx="6.9" ry="6.25" fill="#FF0000"/>
<ellipse cx="1824.9" cy="746.5" rx="6.9" ry="6.25" fill="#FF0000"/>
<ellipse cx="1876.6" cy="740.3" rx="6.9" ry="6.25" fill="#FF0000"/>
<ellipse cx="1843.9" cy="755.9" rx="6.9" ry="6.25" fill="#FF0000"/>
<ellipse cx="1803.1" cy="760.7" rx="6.9" ry="6.25" fill="#FF0000"/>
<ellipse cx="1800.7" cy="954.3" rx="6.9" ry="6.25" fill="#FF0000"/>
<ellipse cx="1812.6" cy="951" rx="6.9" ry="6.25" fill="#FF0000"/>
<ellipse cx="1849.4" cy="955.8" rx="6.9" ry="6.25" fill="#FF0000"/>
<ellipse cx="1875.4" cy="967.3" rx="6.9" ry="6.25" fill="#FF0000"/>
<ellipse cx="1837.1" cy="996.7" rx="6.9" ry="6.25" fill="#FF0000"/>
<ellipse cx="1864.3" cy="995.5" rx="6.9" ry="6.25" fill="#FF0000"/>
<ellipse cx="1708.2" cy="1003" rx="6.9" ry="6.25" fill="#FF0000"/>
<ellipse cx="1787.1" cy="1017.2" rx="6.9" ry="6.25" fill="#FF0000"/>
<ellipse cx="1776.2" cy="1051.3" rx="6.9" ry="6.25" fill="#FF0000"/>
<ellipse cx="1791" cy="1061.6" rx="6.9" ry="6.25" fill="#FF0000"/>
<ellipse cx="1811.4" cy="1050.7" rx="6.9" ry="6.25" fill="#FF0000"/>
<ellipse cx="1830.3" cy="1058.1" rx="6.9" ry="6.25" fill="#FF0000"/>
<ellipse cx="1819.6" cy="1074.6" rx="6.9" ry="6.25" fill="#FF0000"/>
<ellipse cx="1848.2" cy="1087.2" rx="6.9" ry="6.25" fill="#FF0000"/>
<ellipse cx="1742.2" cy="781" rx="6.9" ry="6.25" fill="#CFCDCF"/>
<ellipse cx="1780.2" cy="789.3" rx="6.9" ry="6.25" fill="#CFCDCF"/>
<ellipse cx="1783" cy="797.7" rx="6.9" ry="6.25" fill="#CFCDCF"/>
<ellipse cx="1834.3" cy="785" rx="6.9" ry="6.25" fill="#CFCDCF"/>
<ellipse cx="1859" cy="787.4" rx="6.9" ry="6.25" fill="#CFCDCF"/>
<ellipse cx="1879.5" cy="790" rx="6.9" ry="6.25" fill="#CFCDCF"/>
<ellipse cx="1888.7" cy="795.8" rx="6.9" ry="6.25" fill="#CFCDCF"/>
<ellipse cx="1879.5" cy="796.2" rx="6.9" ry="6.25" fill="#CFCDCF"/>
<ellipse cx="1906.4" cy="792.5" rx="6.9" ry="6.25" fill="#CFCDCF"/>
<ellipse cx="1861.6" cy="809" rx="6.9" ry="6.25" fill="#CFCDCF"/>
<ellipse cx="1906.3" cy="808.9" rx="6.9" ry="6.25" fill="#CFCDCF"/>
<ellipse cx="1887.4" cy="815.3" rx="6.9" ry="6.25" fill="#CFCDCF"/>
<ellipse cx="1812.7" cy="811.6" rx="6.9" ry="6.25" fill="#CFCDCF"/>
<ellipse cx="1800.5" cy="818.2" rx="6.9" ry="6.25" fill="#CFCDCF"/>
<ellipse cx="1830.2" cy="810.9" rx="6.9" ry="6.25" fill="#CFCDCF"/>
<ellipse cx="1825.5" cy="817.8" rx="6.9" ry="6.25" fill="#CFCDCF"/>
<ellipse cx="1832" cy="824.5" rx="6.9" ry="6.25" fill="#CFCDCF"/>
<ellipse cx="1903.3" cy="821.5" rx="6.9" ry="6.25" fill="#CFCDCF"/>
<ellipse cx="1920" cy="827" rx="6.9" ry="6.25" fill="#CFCDCF"/>
<ellipse cx="1867.9" cy="828.6" rx="6.9" ry="6.25" fill="#CFCDCF"/>
<ellipse cx="1884.9" cy="827.8" rx="6.9" ry="6.25" fill="#CFCDCF"/>
<ellipse cx="1770.8" cy="833.1" rx="6.9" ry="6.25" fill="#CFCDCF"/>
<ellipse cx="1764.8" cy="841.7" rx="6.9" ry="6.25" fill="#CFCDCF"/>
<ellipse cx="1767.7" cy="846" rx="6.9" ry="6.25" fill="#CFCDCF"/>
<ellipse cx="1803.2" cy="838.7" rx="6.9" ry="6.25" fill="#CFCDCF"/>
<ellipse cx="1797.1" cy="844" rx="6.9" ry="6.25" fill="#CFCDCF"/>
<ellipse cx="1834.3" cy="844.7" rx="6.9" ry="6.25" fill="#CFCDCF"/>
<ellipse cx="1863.3" cy="841.2" rx="6.9" ry="6.25" fill="#CFCDCF"/>
<ellipse cx="1874.1" cy="838.7" rx="6.9" ry="6.25" fill="#CFCDCF"/>
<ellipse cx="1892.6" cy="834" rx="6.9" ry="6.25" fill="#CFCDCF"/>
<ellipse cx="1901.8" cy="830.9" rx="6.9" ry="6.25" fill="#CFCDCF"/>
<ellipse cx="1908" cy="835.5" rx="6.9" ry="6.25" fill="#CFCDCF"/>
<ellipse cx="1900.3" cy="846.3" rx="6.9" ry="6.25" fill="#CFCDCF"/>
<ellipse cx="1943.3" cy="842.3" rx="6.9" ry="6.25" fill="#CFCDCF"/>
<ellipse cx="1950.2" cy="843.2" rx="6.9" ry="6.25" fill="#CFCDCF"/>
<ellipse cx="1824" cy="852.5" rx="6.9" ry="6.25" fill="#CFCDCF"/>
<ellipse cx="1793.9" cy="850.9" rx="6.9" ry="6.25" fill="#CFCDCF"/>
<ellipse cx="1846.3" cy="858.6" rx="6.9" ry="6.25" fill="#CFCDCF"/>
<ellipse cx="1864.1" cy="853.2" rx="6.9" ry="6.25" fill="#CFCDCF"/>
<ellipse cx="1881" cy="855.5" rx="6.9" ry="6.25" fill="#CFCDCF"/>
<ellipse cx="1895.6" cy="860.2" rx="6.9" ry="6.25" fill="#CFCDCF"/>
<ellipse cx="1909.5" cy="857.9" rx="6.9" ry="6.25" fill="#CFCDCF"/>
<ellipse cx="1920.3" cy="855.2" rx="6.9" ry="6.25" fill="#CFCDCF"/>
<ellipse cx="1875.6" cy="864.8" rx="6.9" ry="6.25" fill="#CFCDCF"/>
<ellipse cx="1899.5" cy="867.9" rx="6.9" ry="6.25" fill="#CFCDCF"/>
<ellipse cx="1832.5" cy="864.8" rx="6.9" ry="6.25" fill="#CFCDCF"/>
<ellipse cx="1810.9" cy="868.6" rx="6.9" ry="6.25" fill="#CFCDCF"/>
<ellipse cx="1761.4" cy="877" rx="6.9" ry="6.25" fill="#CFCDCF"/>
<ellipse cx="1787.8" cy="879.4" rx="6.9" ry="6.25" fill="#CFCDCF"/>
<ellipse cx="1799.3" cy="877.9" rx="6.9" ry="6.25" fill="#CFCDCF"/>
<ellipse cx="1805.5" cy="883.3" rx="6.9" ry="6.25" fill="#CFCDCF"/>
<ellipse cx="1821.7" cy="885.6" rx="6.9" ry="6.25" fill="#CFCDCF"/>
<ellipse cx="1835.5" cy="887.9" rx="6.9" ry="6.25" fill="#CFCDCF"/>
<ellipse cx="1847.9" cy="886.4" rx="6.9" ry="6.25" fill="#CFCDCF"/>
<ellipse cx="1830.9" cy="877.1" rx="6.9" ry="6.25" fill="#CFCDCF"/>
<ellipse cx="1840.2" cy="874" rx="6.9" ry="6.25" fill="#CFCDCF"/>
<ellipse cx="1852.5" cy="874.8" rx="6.9" ry="6.25" fill="#CFCDCF"/>
<ellipse cx="1867.1" cy="879.4" rx="6.9" ry="6.25" fill="#CFCDCF"/>
<ellipse cx="1883.3" cy="889.4" rx="6.9" ry="6.25" fill="#CFCDCF"/>
<ellipse cx="1891.8" cy="889.4" rx="6.9" ry="6.25" fill="#CFCDCF"/>
<ellipse cx="1902.6" cy="884.1" rx="6.9" ry="6.25" fill="#CFCDCF"/>
<ellipse cx="1910.3" cy="877.9" rx="6.9" ry="6.25" fill="#CFCDCF"/>
<ellipse cx="1753.5" cy="899.5" rx="6.9" ry="6.25" fill="#CFCDCF"/>
<ellipse cx="1796.5" cy="908.7" rx="6.9" ry="6.25" fill="#CFCDCF"/>
<ellipse cx="1814" cy="910.3" rx="6.9" ry="6.25" fill="#CFCDCF"/>
<ellipse cx="1827.5" cy="912.6" rx="6.9" ry="6.25" fill="#CFCDCF"/>
<ellipse cx="1888.7" cy="902.3" rx="6.9" ry="6.25" fill="#CFCDCF"/>
<ellipse cx="1876.2" cy="908.5" rx="6.9" ry="6.25" fill="#CFCDCF"/>
<ellipse cx="1876.2" cy="914.8" rx="6.9" ry="6.25" fill="#CFCDCF"/>
<ellipse cx="1864.2" cy="924.2" rx="6.9" ry="6.25" fill="#CFCDCF"/>
<ellipse cx="1901.1" cy="921.2" rx="6.9" ry="6.25" fill="#CFCDCF"/>
<ellipse cx="1912.2" cy="913.5" rx="6.9" ry="6.25" fill="#CFCDCF"/>
<ellipse cx="1914.8" cy="922.5" rx="6.9" ry="6.25" fill="#CFCDCF"/>
<ellipse cx="1842.7" cy="932.3" rx="6.9" ry="6.25" fill="#CFCDCF"/>
<ellipse cx="1920.3" cy="935" rx="6.9" ry="6.25" fill="#CFCDCF"/>
<ellipse cx="1660.8" cy="810.6" rx="6.9" ry="6.25" fill="#CFCDCF"/>
<ellipse cx="1715" cy="834.4" rx="6.9" ry="6.25" fill="#CFCDCF"/>
<ellipse cx="1683.8" cy="856.1" rx="6.9" ry="6.25" fill="#CFCDCF"/>
<ellipse cx="1689.3" cy="876" rx="6.9" ry="6.25" fill="#CFCDCF"/>
<ellipse cx="1715" cy="919.8" rx="6.9" ry="6.25" fill="#CFCDCF"/>
<ellipse cx="1810.9" cy="866.9" rx="6.9" ry="6.25" fill="#CFCDCF"/>
<ellipse cx="1826.4" cy="854.5" rx="6.9" ry="6.25" fill="#CFCDCF"/>
<ellipse cx="1840" cy="859.3" rx="6.9" ry="6.25" fill="#CFCDCF"/>
<ellipse cx="1878.9" cy="851.5" rx="6.9" ry="6.25" fill="#CFCDCF"/>
<ellipse cx="1865.3" cy="852.5" rx="6.9" ry="6.25" fill="#CFCDCF"/>
<ellipse cx="1896.4" cy="847.7" rx="6.9" ry="6.25" fill="#CFCDCF"/>
<ellipse cx="1868.2" cy="829.2" rx="6.9" ry="6.25" fill="#CFCDCF"/>
<ellipse cx="1894.5" cy="831.1" rx="6.9" ry="6.25" fill="#CFCDCF"/>
<ellipse cx="1906.1" cy="833.1" rx="6.9" ry="6.25" fill="#CFCDCF"/>
<ellipse cx="1888.6" cy="840.8" rx="6.9" ry="6.25" fill="#CFCDCF"/>
<ellipse cx="1919.7" cy="854.5" rx="6.9" ry="6.25" fill="#CFCDCF"/>
<ellipse cx="1875" cy="863.2" rx="6.9" ry="6.25" fill="#CFCDCF"/>
<ellipse cx="1895.4" cy="860.3" rx="6.9" ry="6.25" fill="#CFCDCF"/>
<ellipse cx="1229.1" cy="1050.4" rx="6.9" ry="6.25" fill="#009A00"/>
<ellipse cx="1408.1" cy="1016.7" rx="6.9" ry="6.25" fill="#009A00"/>
<ellipse cx="1508.6" cy="1036.1" rx="6.9" ry="6.25" fill="#009A00"/>
<ellipse cx="1455.6" cy="1080.6" rx="6.9" ry="6.25" fill="#009A00"/>
<ellipse cx="1611.7" cy="1078.9" rx="6.9" ry="6.25" fill="#009A00"/>
<ellipse cx="1307.8" cy="1142.2" rx="6.9" ry="6.25" fill="#009A00"/>
<ellipse cx="1270.5" cy="1158.7" rx="6.9" ry="6.25" fill="#009A00"/>
<ellipse cx="1656.4" cy="1138" rx="6.9" ry="6.25" fill="#009A00"/>
<ellipse cx="1600.6" cy="1325.3" rx="6.9" ry="6.25" fill="#009A00"/>
<ellipse cx="1454.5" cy="891.3" rx="6.9" ry="6.25" fill="#0000FF"/>
<ellipse cx="1511.3" cy="883.1" rx="6.9" ry="6.25" fill="#0000FF"/>
<ellipse cx="1520.6" cy="824.8" rx="6.9" ry="6.25" fill="#0000FF"/>
<ellipse cx="1580.9" cy="858.8" rx="6.9" ry="6.25" fill="#0000FF"/>
<ellipse cx="1629.5" cy="797.9" rx="6.9" ry="6.25" fill="#0000FF"/>
<ellipse cx="1663.3" cy="791.1" rx="6.9" ry="6.25" fill="#0000FF"/>
<ellipse cx="1664.9" cy="833.5" rx="6.9" ry="6.25" fill="#0000FF"/>
<ellipse cx="1640.6" cy="909.7" rx="6.9" ry="6.25" fill="#0000FF"/>
<ellipse cx="1728.7" cy="874.3" rx="6.9" ry="6.25" fill="#0000FF"/>
<ellipse cx="1742.1" cy="872.8" rx="6.9" ry="6.25" fill="#0000FF"/>
<text transform="translate(1424.30,887.40) scale(0.8940,1)" font-size="24.6" stroke="#000" stroke-width="0.3">Atf1</text>
<text transform="translate(1488.30,908.80) scale(0.8940,1)" font-size="24.6" stroke="#000" stroke-width="0.3">Jjj1</text>
<text transform="translate(1495.21,817.40) scale(0.8940,1)" font-size="24.6" stroke="#000" stroke-width="0.3">Stb4</text>
<text transform="translate(1554.21,879.60) scale(0.8940,1)" font-size="24.6" stroke="#000" stroke-width="0.3">Hap2</text>
<text transform="translate(1587.81,792.10) scale(0.8940,1)" font-size="24.6" stroke="#000" stroke-width="0.3">Bzp2</text>
<text transform="translate(1669.40,796.60) scale(0.8940,1)" font-size="24.6" stroke="#000" stroke-width="0.3">Ada2</text>
<text transform="translate(1615.30,843.80) scale(0.8940,1)" font-size="24.6" stroke="#000" stroke-width="0.3">Zfc3</text>
<text transform="translate(1580.41,930.70) scale(0.8940,1)" font-size="24.6" stroke="#000" stroke-width="0.3">Hob5</text>
<text transform="translate(1617.81,894.80) scale(0.8940,1)" font-size="24.6" stroke="#000" stroke-width="0.3">Hlh3/Pho4</text>
<text transform="translate(1740.81,868.00) scale(0.8940,1)" font-size="24.6" stroke="#000" stroke-width="0.3">Sp1(Crz1)</text>
<text transform="translate(1834.31,956.00) scale(0.8940,1)" font-size="24.6" stroke="#000" stroke-width="0.3">Mbs2</text>
<text transform="translate(1762.41,1010.80) scale(0.8940,1)" font-size="24.6" stroke="#000" stroke-width="0.3">Liv1</text>
<text transform="translate(1799.31,1048.60) scale(0.8940,1)" font-size="24.6" stroke="#000" stroke-width="0.3">Bwc2</text>
<text transform="translate(1701.11,1074.60) scale(0.8940,1)" font-size="24.6" stroke="#000" stroke-width="0.3">Usv101</text>
<text transform="translate(1194.51,1047.70) scale(0.8940,1)" font-size="24.6" stroke="#000" stroke-width="0.3">Sre1</text>
<text transform="translate(1361.21,1039.40) scale(0.8940,1)" font-size="24.6" stroke="#000" stroke-width="0.3">Fzc9</text>
<text transform="translate(1471.21,1028.10) scale(0.8940,1)" font-size="24.6" stroke="#000" stroke-width="0.3">Fzc31</text>
<text transform="translate(1415.71,1107.70) scale(0.8940,1)" font-size="24.6" stroke="#000" stroke-width="0.3">Fzc1</text>
<text transform="translate(1567.91,1103.40) scale(0.8940,1)" font-size="24.6" stroke="#000" stroke-width="0.3">Hob1</text>
<text transform="translate(1276.41,1135.30) scale(0.8940,1)" font-size="24.6" stroke="#000" stroke-width="0.3">Bzp1(Hxl1)</text>
<text transform="translate(1206.01,1158.80) scale(0.8940,1)" font-size="24.6" stroke="#000" stroke-width="0.3">Pdr802</text>
<text transform="translate(1633.11,1163.70) scale(0.8940,1)" font-size="24.6" stroke="#000" stroke-width="0.3">Nrg1</text>
<text transform="translate(1558.81,1314.90) scale(0.8940,1)" font-size="24.6" stroke="#000" stroke-width="0.3">Gat201</text>
<rect x="1164.5" y="598.7" width="885.3000000000002" height="763.8999999999999" fill="none" stroke="#000" stroke-width="3.4"/>
<path d="M1164.5,769.6 H2049.8 M1164.5,940.1 H2049.8" stroke="#FF0000" stroke-width="3.1" stroke-dasharray="12.7 9.2" stroke-dashoffset="0" fill="none"/>
<path d="M1755.4,598.7 V1362.6 M1951.2,598.7 V1362.6" stroke="#FF0000" stroke-width="3.4" stroke-dasharray="12.5 9.4" stroke-dashoffset="0" fill="none"/>
<text x="1132.60" y="607.90" font-size="30" stroke="#000" stroke-width="0.3">8</text>
<text x="1132.60" y="692.50" font-size="30" stroke="#000" stroke-width="0.3">4</text>
<text x="1132.60" y="777.40" font-size="30" stroke="#000" stroke-width="0.3">2</text>
<text x="1132.60" y="861.80" font-size="30" stroke="#000" stroke-width="0.3">0</text>
<text x="1115.92" y="947.10" font-size="30" stroke="#000" stroke-width="0.3">–2</text>
<text x="1115.92" y="1031.30" font-size="30" stroke="#000" stroke-width="0.3">–4</text>
<text x="1115.92" y="1116.80" font-size="30" stroke="#000" stroke-width="0.3">–8</text>
<text x="1099.23" y="1202.40" font-size="30" stroke="#000" stroke-width="0.3">–10</text>
<text x="1099.23" y="1286.80" font-size="30" stroke="#000" stroke-width="0.3">–12</text>
<text x="1099.23" y="1371.80" font-size="30" stroke="#000" stroke-width="0.3">–14</text>
<text x="1139.82" y="1400.30" font-size="30" stroke="#000" stroke-width="0.3">–14</text>
<text x="1238.32" y="1400.30" font-size="30" stroke="#000" stroke-width="0.3">–12</text>
<text x="1337.32" y="1400.30" font-size="30" stroke="#000" stroke-width="0.3">–10</text>
<text x="1443.36" y="1400.30" font-size="30" stroke="#000" stroke-width="0.3">–8</text>
<text x="1542.86" y="1400.30" font-size="30" stroke="#000" stroke-width="0.3">–6</text>
<text x="1640.66" y="1400.30" font-size="30" stroke="#000" stroke-width="0.3">–4</text>
<text x="1738.66" y="1400.30" font-size="30" stroke="#000" stroke-width="0.3">–2</text>
<text x="1845.00" y="1400.30" font-size="30" stroke="#000" stroke-width="0.3">0</text>
<text x="1943.00" y="1400.30" font-size="30" stroke="#000" stroke-width="0.3">2</text>
<text x="2041.80" y="1400.30" font-size="30" stroke="#000" stroke-width="0.3">4</text>
<text transform="translate(1466.05,1445.80) scale(0.9727,1)" font-size="30" stroke="#000" stroke-width="0.3">Brain-STM score</text>
<text transform="translate(1070.60,1091.25) rotate(-90) scale(0.9751,1)" font-size="30" stroke="#000" stroke-width="0.3">Lung-STM score</text>
</svg>
</body></html>
